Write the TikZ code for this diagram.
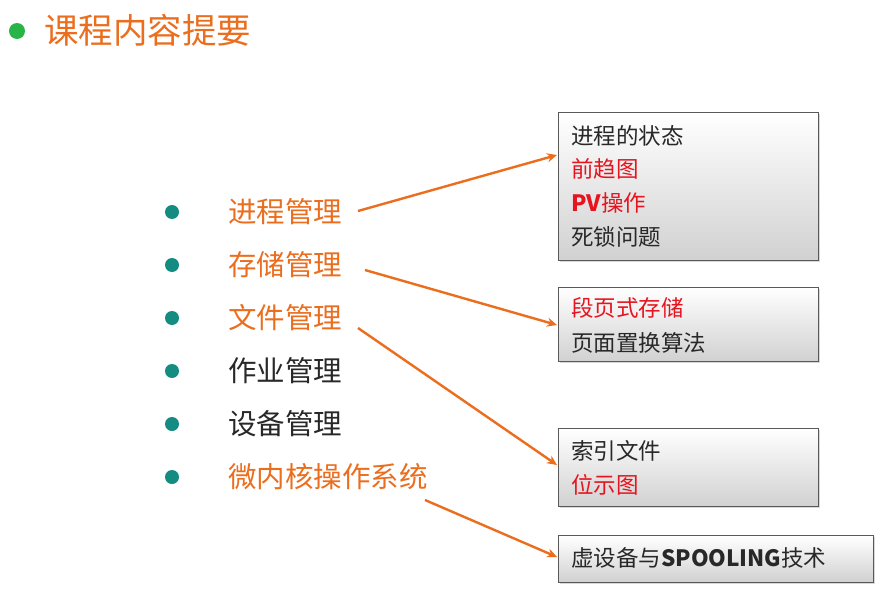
\documentclass[tikz,border=0pt]{standalone}
\usepackage{fontspec}
\setmainfont{Noto Sans CJK SC}
\usetikzlibrary{shadows,arrows.meta}
\definecolor{org}{RGB}{235,110,30}
\definecolor{tl}{RGB}{20,140,130}
\definecolor{gr}{RGB}{40,180,70}
\definecolor{txt}{RGB}{40,40,40}
\definecolor{rd}{RGB}{230,20,30}
\tikzset{
 x=1pt,y=-1pt,
 box/.style={draw=gray!70!black,line width=0.8pt,top color=white,bottom color=black!18,drop shadow={shadow xshift=2pt,shadow yshift=-2pt,opacity=0.3}},
 item/.style={anchor=west,font=\fontsize{28.5}{28.5}\selectfont,inner sep=0},
 bl/.style={text=txt,anchor=west,font=\fontsize{22.5}{22.5}\selectfont,inner sep=0},
 bul/.style={circle,fill=tl,minimum size=14pt,inner sep=0},
 arr/.style={draw=org,line width=2.4pt,-{Stealth[length=10pt,width=9pt]}}
}
\begin{document}
\begin{tikzpicture}
\useasboundingbox (0,0) rectangle (893,599);
\fill[white] (0,0) rectangle (893,599);
\node[circle,fill=gr,minimum size=16pt,inner sep=0] (ti) at (17,31) {};
\node[anchor=west,text=org,font=\fontsize{34.5}{34.5}\selectfont,inner sep=0] (title) at (44,30) {课程内容提要};
\foreach \y/\t/\c/\n in {212/进程管理/org/a,265/存储管理/org/b,318/文件管理/org/c,371/作业管理/txt/d,424/设备管理/txt/e,477/微内核操作系统/org/f}{
 \node[bul] (u\n) at (172,\y) {};
 \node[item,text=\c] (i\n) at (228,\y) {\t};
}
\node[box,minimum width=260pt,minimum height=148pt,anchor=north west] (b1) at (558,112) {};
\node[box,minimum width=260pt,minimum height=74pt,anchor=north west] (b2) at (558,287) {};
\node[box,minimum width=260pt,minimum height=78pt,anchor=north west] (b3) at (558,428) {};
\node[box,minimum width=315pt,minimum height=47pt,anchor=north west] (b4) at (558,535) {};
\node[bl] (t1) at (571,136) {进程的状态};
\node[bl,text=rd] (t2) at (571,169) {前趋图};
\node[bl,text=rd] (t3) at (571,203) {\textbf{PV}操作};
\node[bl] (t4) at (571,237) {死锁问题};
\node[bl,text=rd] (t5) at (571,308) {段页式存储};
\node[bl] (t6) at (571,343) {页面置换算法};
\node[bl] (t7) at (571,451) {索引文件};
\node[bl,text=rd] (t8) at (571,485) {位示图};
\node[bl] (t9) at (571,558) {虚设备与\textbf{SPOOLING}技术};
\coordinate (s1) at (358,211); \coordinate (e1) at (557,155);
\coordinate (s2) at (365,270); \coordinate (e2) at (557,325);
\coordinate (s3) at (358,328); \coordinate (e3) at (557,465);
\coordinate (s4) at (425,500); \coordinate (e4) at (557,557);
\draw[arr] (s1) -- (e1);
\draw[arr] (s2) -- (e2);
\draw[arr] (s3) -- (e3);
\draw[arr] (s4) -- (e4);
\end{tikzpicture}
\end{document}
